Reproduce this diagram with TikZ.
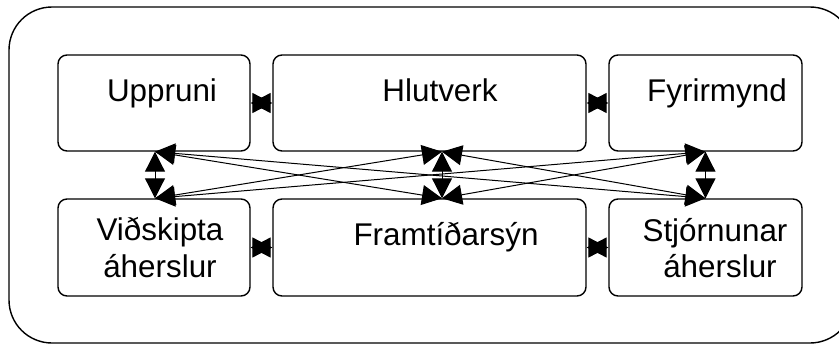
\documentclass[tikz,border=0pt]{standalone}
\usepackage{fontspec}
\setmainfont{Liberation Sans}
\usetikzlibrary{arrows.meta}
\begin{document}
\begin{tikzpicture}[x=1pt,y=-1pt,
  box/.style={draw,line width=1.4pt,rounded corners=9pt,minimum width=#1,inner sep=0pt},
  tophgt/.style={minimum height=96pt},
  bothgt/.style={minimum height=97pt},
  lbl/.style={anchor=base,inner sep=0pt,font=\fontsize{31.4}{37}\selectfont},
  conn/.style={line width=1pt,{Triangle[length=20pt,width=20pt]}-{Triangle[length=20pt,width=20pt]}}]
\useasboundingbox (0,0) rectangle (839,345);
\node[draw,line width=1.4pt,rounded corners=43pt,minimum width=844pt,minimum height=336pt,inner sep=0pt] (frame) at (431,175) {};
% top row
\node[box=192pt,tophgt] (u) at (154,103) {};
\node[box=313pt,tophgt] (h) at (429.5,103) {};
\node[box=193pt,tophgt] (f) at (705.5,103) {};
% bottom row
\node[box=192pt,bothgt] (v) at (154,247.5) {};
\node[box=313pt,bothgt] (s) at (429.5,247.5) {};
\node[box=193pt,bothgt] (st) at (705.5,247.5) {};
% texts
\node[lbl] (tu) at (162,102) {Uppruni};
\node[lbl] (th) at (440,102) {Hlutverk};
\node[lbl] (tf) at (717,102) {Fyrirmynd};
\node[lbl] (tv1) at (160,240) {Viðskipta};
\node[lbl] (tv2) at (160,277) {áherslur};
\node[lbl] (ts) at (446,245) {Framtíðarsýn};
\node[lbl] (tst1) at (715,241) {Stjórnunar};
\node[lbl] (tst2) at (720,277) {áherslur};
% connection points
\coordinate (us) at ([xshift=1pt]u.south);
\coordinate (hs) at ([xshift=12.5pt]h.south);
\coordinate (fs) at (f.south);
\coordinate (vn) at ([xshift=1pt]v.north);
\coordinate (sn) at ([xshift=12.5pt]s.north);
\coordinate (stn) at (st.north);
% horizontal connectors
\draw[conn] (u.east) -- (h.west);
\draw[conn] (h.east) -- (f.west);
\draw[conn] (v.east) -- (s.west);
\draw[conn] (s.east) -- (st.west);
% vertical connectors
\draw[conn] (us) -- (vn);
\draw[conn] (hs) -- (sn);
\draw[conn] (fs) -- (stn);
% diagonal connectors
\draw[conn] (us) -- (sn);
\draw[conn] (us) -- (stn);
\draw[conn] (hs) -- (vn);
\draw[conn] (hs) -- (stn);
\draw[conn] (fs) -- (vn);
\draw[conn] (fs) -- (sn);
\end{tikzpicture}
\end{document}
